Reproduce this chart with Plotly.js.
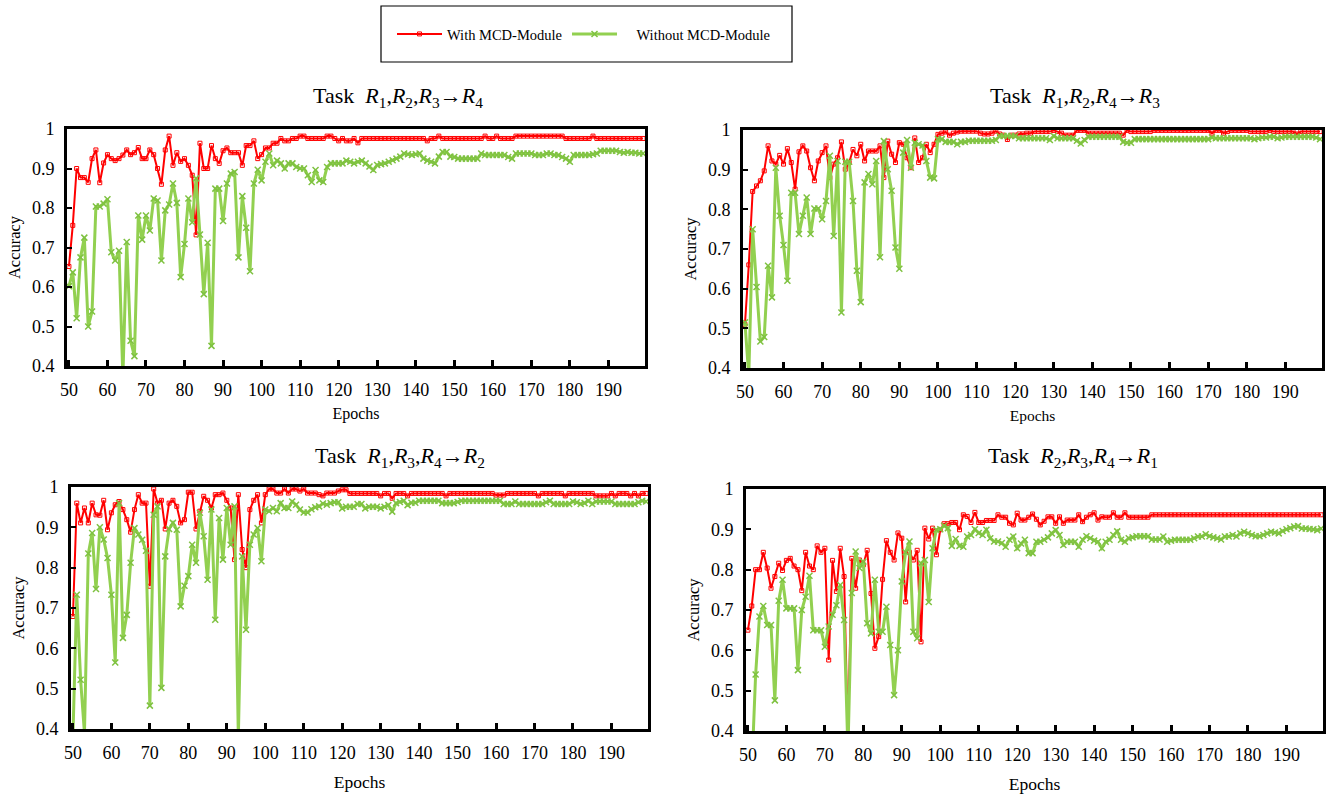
<!DOCTYPE html>
<html>
<head>
<meta charset="utf-8">
<script src="https://cdn.plot.ly/plotly-3.0.1.min.js"></script>
<style>html,body{margin:0;padding:0;background:#fff;}#chart{width:1338px;height:794px;}</style>
</head>
<body>
<div id="chart"></div>
<script>
// Epochs (categories)
const epochs = [50,51,52,53,54,55,56,57,58,59,60,61,62,63,64,65,66,67,68,69,70,71,72,73,74,75,76,77,78,79,
80,81,82,83,84,85,86,87,88,89,90,91,92,93,94,95,96,97,98,99,100,101,102,103,104,105,106,107,108,109,
110,111,112,113,114,115,116,117,118,119,120,121,122,123,124,125,126,127,128,129,130,131,132,133,134,135,136,137,138,139,
140,141,142,143,144,145,146,147,148,149,150,151,152,153,154,155,156,157,158,159,160,161,162,163,164,165,166,167,168,169,
170,171,172,173,174,175,176,177,178,179,180,181,182,183,184,185,186,187,188,189,190,191,192,193,194,195,196,197,198,199];

const xTickVals = [50,60,70,80,90,100,110,120,130,140,150,160,170,180,190];
const yTickVals = [0.4,0.5,0.6,0.7,0.8,0.9,1];
const yTickText = ["0.4","0.5","0.6","0.7","0.8","0.9","1"];

const seriesNames = ["With MCD-Module", "\u00a0\u00a0\u00a0\u00a0Without MCD-Module"];
const taskTitles = [
  "Task\u00a0 <i>R</i><sub>1</sub>,<i>R</i><sub>2</sub>,<i>R</i><sub>3</sub>\u2192<i>R</i><sub>4</sub>",
  "Task\u00a0 <i>R</i><sub>1</sub>,<i>R</i><sub>2</sub>,<i>R</i><sub>4</sub>\u2192<i>R</i><sub>3</sub>",
  "Task\u00a0 <i>R</i><sub>1</sub>,<i>R</i><sub>3</sub>,<i>R</i><sub>4</sub>\u2192<i>R</i><sub>2</sub>",
  "Task\u00a0 <i>R</i><sub>2</sub>,<i>R</i><sub>3</sub>,<i>R</i><sub>4</sub>\u2192<i>R</i><sub>1</sub>"
];

// Task R1,R2,R3 -> R4
const withR4 = [0.652,0.756,0.900,0.877,0.877,0.865,0.925,0.947,0.864,0.914,
0.935,0.925,0.920,0.925,0.934,0.947,0.935,0.940,0.953,0.925,
0.925,0.947,0.935,0.900,0.860,0.947,0.982,0.908,0.940,0.918,
0.925,0.908,0.883,0.732,0.964,0.900,0.900,0.958,0.925,0.913,
0.945,0.952,0.940,0.940,0.940,0.908,0.958,0.958,0.970,0.925,
0.935,0.952,0.952,0.964,0.964,0.976,0.970,0.970,0.976,0.976,
0.982,0.982,0.976,0.976,0.976,0.976,0.976,0.982,0.982,0.976,
0.970,0.976,0.970,0.970,0.976,0.965,0.976,0.976,0.976,0.976,
0.976,0.976,0.976,0.976,0.976,0.976,0.976,0.976,0.976,0.976,
0.976,0.976,0.976,0.970,0.976,0.976,0.982,0.976,0.976,0.976,
0.976,0.976,0.976,0.976,0.976,0.976,0.976,0.976,0.982,0.976,
0.976,0.982,0.976,0.976,0.976,0.976,0.982,0.982,0.982,0.982,
0.982,0.982,0.982,0.982,0.982,0.982,0.982,0.982,0.982,0.976,
0.976,0.976,0.976,0.976,0.976,0.976,0.982,0.976,0.976,0.976,
0.976,0.976,0.976,0.976,0.976,0.976,0.976,0.976,0.976,0.976];
const withoutR4 = [0.602,0.637,0.521,0.675,0.725,0.500,0.538,0.804,0.804,0.811,
0.822,0.688,0.667,0.692,0.370,0.714,0.464,0.425,0.781,0.720,
0.781,0.743,0.824,0.819,0.667,0.794,0.809,0.862,0.813,0.625,
0.709,0.824,0.764,0.875,0.733,0.582,0.712,0.451,0.849,0.849,
0.767,0.862,0.887,0.891,0.675,0.830,0.750,0.640,0.862,0.897,
0.870,0.917,0.938,0.908,0.920,0.913,0.900,0.913,0.913,0.904,
0.900,0.900,0.883,0.866,0.896,0.870,0.866,0.904,0.913,0.913,
0.913,0.913,0.920,0.917,0.913,0.917,0.920,0.913,0.905,0.896,
0.909,0.911,0.913,0.917,0.921,0.925,0.930,0.938,0.936,0.934,
0.936,0.938,0.925,0.920,0.917,0.913,0.930,0.942,0.942,0.930,
0.929,0.925,0.925,0.925,0.925,0.925,0.925,0.938,0.934,0.934,
0.934,0.934,0.934,0.934,0.929,0.925,0.938,0.938,0.938,0.938,
0.938,0.934,0.934,0.934,0.938,0.938,0.934,0.934,0.929,0.925,
0.917,0.934,0.934,0.934,0.934,0.934,0.936,0.938,0.945,0.945,
0.945,0.945,0.945,0.942,0.940,0.942,0.940,0.940,0.938,0.938];

// Task R1,R2,R4 -> R3
const withR3 = [0.510,0.660,0.845,0.859,0.872,0.897,0.960,0.922,0.914,0.936,
0.914,0.953,0.918,0.851,0.945,0.960,0.947,0.905,0.872,0.922,
0.943,0.960,0.880,0.914,0.930,0.970,0.901,0.918,0.951,0.935,
0.964,0.922,0.947,0.947,0.947,0.960,0.880,0.972,0.939,0.918,
0.968,0.964,0.930,0.905,0.980,0.918,0.930,0.964,0.943,0.964,
0.989,0.992,0.995,0.987,0.992,0.995,0.997,0.997,0.997,0.997,
0.997,0.992,0.990,0.990,0.992,0.997,0.990,0.987,0.976,0.987,
0.987,0.990,0.990,0.992,0.992,0.996,0.996,0.996,0.996,0.996,
0.999,0.996,0.992,0.987,0.987,0.987,0.999,0.999,0.999,0.992,
0.992,0.992,0.992,0.992,0.992,0.992,0.992,0.992,0.987,0.999,
0.996,0.996,0.996,0.996,0.996,0.996,0.999,0.999,0.999,0.999,
0.999,0.999,0.999,0.999,0.999,0.999,0.999,0.999,0.999,0.999,
0.999,0.992,0.999,0.999,0.992,0.996,0.999,0.999,0.999,0.999,
0.999,0.996,0.996,0.996,0.996,0.996,0.999,0.996,0.996,0.996,
0.996,0.996,0.996,0.990,0.996,0.996,0.996,0.996,0.996,0.996];
const withoutR3 = [0.515,0.380,0.750,0.604,0.467,0.478,0.658,0.578,0.905,0.784,
0.710,0.620,0.842,0.842,0.738,0.784,0.830,0.738,0.802,0.802,
0.775,0.821,0.935,0.733,0.922,0.540,0.920,0.920,0.821,0.645,
0.566,0.868,0.889,0.863,0.922,0.679,0.972,0.901,0.847,0.704,
0.650,0.943,0.975,0.905,0.968,0.964,0.961,0.922,0.880,0.878,
0.977,0.977,0.970,0.970,0.970,0.964,0.970,0.970,0.973,0.973,
0.973,0.973,0.973,0.973,0.973,0.975,0.985,0.985,0.985,0.985,
0.985,0.979,0.979,0.979,0.979,0.979,0.979,0.979,0.979,0.975,
0.985,0.979,0.979,0.979,0.979,0.979,0.973,0.966,0.975,0.983,
0.983,0.983,0.983,0.983,0.983,0.983,0.983,0.983,0.970,0.968,
0.968,0.977,0.977,0.977,0.977,0.977,0.977,0.977,0.977,0.977,
0.977,0.977,0.977,0.977,0.977,0.977,0.977,0.977,0.977,0.977,
0.977,0.981,0.979,0.979,0.979,0.979,0.979,0.979,0.979,0.979,
0.979,0.979,0.977,0.979,0.981,0.981,0.983,0.983,0.979,0.981,
0.983,0.983,0.983,0.983,0.983,0.983,0.983,0.983,0.981,0.977];

// Task R1,R3,R4 -> R2
const withR2 = [0.679,0.960,0.911,0.948,0.911,0.960,0.931,0.930,0.967,0.894,
0.936,0.956,0.964,0.944,0.919,0.888,0.944,0.981,0.960,0.960,
0.754,0.995,0.960,0.967,0.896,0.960,0.967,0.952,0.911,0.919,
0.987,0.987,0.896,0.940,0.977,0.967,0.948,0.981,0.981,0.985,
0.967,0.948,0.820,0.981,0.845,0.800,0.944,0.967,0.981,0.911,
0.981,0.995,0.995,0.985,0.985,0.995,0.985,0.995,0.995,0.990,
0.995,0.985,0.985,0.985,0.981,0.978,0.985,0.985,0.985,0.990,
0.993,0.993,0.984,0.984,0.984,0.984,0.984,0.984,0.984,0.984,
0.978,0.984,0.984,0.972,0.984,0.984,0.984,0.978,0.984,0.984,
0.984,0.984,0.984,0.984,0.984,0.984,0.984,0.978,0.984,0.984,
0.984,0.984,0.984,0.984,0.984,0.984,0.984,0.984,0.984,0.984,
0.980,0.980,0.980,0.984,0.984,0.984,0.984,0.984,0.984,0.984,
0.984,0.978,0.984,0.984,0.984,0.984,0.984,0.984,0.978,0.984,
0.984,0.984,0.984,0.984,0.984,0.984,0.978,0.978,0.978,0.978,
0.984,0.978,0.984,0.984,0.984,0.978,0.984,0.978,0.984,0.984];
const withoutR2 = [0.380,0.733,0.522,0.390,0.835,0.886,0.747,0.900,0.870,0.824,
0.733,0.565,0.960,0.626,0.683,0.812,0.898,0.882,0.869,0.842,
0.458,0.931,0.952,0.502,0.828,0.896,0.911,0.894,0.704,0.755,
0.779,0.857,0.812,0.936,0.878,0.770,0.944,0.671,0.923,0.820,
0.948,0.857,0.952,0.380,0.828,0.646,0.857,0.882,0.898,0.816,
0.944,0.940,0.948,0.940,0.960,0.948,0.948,0.964,0.956,0.944,
0.937,0.937,0.945,0.950,0.952,0.959,0.956,0.960,0.962,0.962,
0.947,0.951,0.951,0.951,0.958,0.958,0.947,0.951,0.951,0.951,
0.947,0.951,0.955,0.939,0.960,0.963,0.966,0.955,0.961,0.961,
0.966,0.966,0.966,0.966,0.966,0.966,0.960,0.960,0.960,0.960,
0.963,0.966,0.966,0.966,0.966,0.966,0.966,0.966,0.966,0.966,
0.966,0.966,0.958,0.958,0.958,0.964,0.958,0.958,0.958,0.958,
0.958,0.958,0.958,0.962,0.966,0.958,0.958,0.958,0.958,0.958,
0.964,0.962,0.958,0.960,0.966,0.958,0.964,0.964,0.964,0.964,
0.964,0.958,0.958,0.958,0.958,0.958,0.958,0.962,0.966,0.964];

// Task R2,R3,R4 -> R1
const withR1 = [0.650,0.710,0.800,0.800,0.843,0.804,0.754,0.783,0.816,0.798,
0.823,0.828,0.809,0.800,0.748,0.843,0.809,0.800,0.859,0.843,
0.853,0.576,0.823,0.746,0.853,0.783,0.380,0.828,0.754,0.824,
0.812,0.848,0.741,0.605,0.634,0.776,0.872,0.843,0.824,0.891,
0.878,0.720,0.843,0.824,0.848,0.621,0.903,0.876,0.903,0.837,
0.899,0.914,0.914,0.917,0.917,0.899,0.936,0.932,0.917,0.942,
0.917,0.917,0.922,0.922,0.922,0.936,0.930,0.930,0.915,0.911,
0.940,0.923,0.923,0.930,0.938,0.925,0.911,0.920,0.931,0.931,
0.915,0.931,0.915,0.923,0.923,0.923,0.936,0.919,0.930,0.936,
0.941,0.923,0.931,0.930,0.930,0.941,0.930,0.930,0.941,0.930,
0.930,0.930,0.930,0.930,0.930,0.936,0.936,0.936,0.936,0.936,
0.936,0.936,0.936,0.936,0.936,0.936,0.936,0.936,0.936,0.936,
0.936,0.936,0.936,0.936,0.936,0.936,0.936,0.936,0.936,0.936,
0.936,0.936,0.936,0.936,0.936,0.936,0.936,0.936,0.936,0.936,
0.936,0.936,0.936,0.936,0.936,0.936,0.936,0.936,0.936,0.936];
const withoutR1 = [0.300,0.300,0.540,0.684,0.710,0.663,0.663,0.476,0.723,0.775,
0.704,0.704,0.704,0.551,0.700,0.733,0.785,0.650,0.650,0.650,
0.609,0.659,0.688,0.712,0.762,0.675,0.350,0.742,0.845,0.804,
0.820,0.667,0.642,0.775,0.646,0.646,0.708,0.613,0.489,0.600,
0.771,0.843,0.870,0.646,0.630,0.816,0.824,0.720,0.853,0.899,
0.900,0.909,0.903,0.859,0.876,0.859,0.857,0.882,0.886,0.900,
0.891,0.886,0.899,0.878,0.870,0.870,0.866,0.857,0.874,0.882,
0.853,0.865,0.874,0.841,0.841,0.869,0.869,0.874,0.880,0.890,
0.898,0.886,0.861,0.869,0.869,0.869,0.857,0.874,0.883,0.878,
0.872,0.869,0.853,0.869,0.874,0.886,0.895,0.874,0.869,0.878,
0.880,0.883,0.883,0.883,0.883,0.875,0.875,0.875,0.882,0.869,
0.872,0.874,0.874,0.874,0.874,0.874,0.878,0.882,0.882,0.888,
0.883,0.880,0.878,0.875,0.882,0.882,0.886,0.882,0.890,0.894,
0.890,0.886,0.883,0.883,0.886,0.890,0.894,0.892,0.890,0.896,
0.900,0.903,0.907,0.908,0.902,0.902,0.901,0.900,0.898,0.902];

const panelsWith = [withR4, withR3, withR2, withR1];
const panelsWithout = [withoutR4, withoutR3, withoutR2, withoutR1];

const FONT = 'Liberation Serif, Times New Roman, serif';
const RED = '#ff0000';
const GREEN = '#92d050';
const GREEN_MK = '#7fc241';

const W = 1338, H = 794;
// pixel boxes [left, right, top, bottom]
const boxes = [[67,645,129,366],[743,1322,130,368],[71,648,487,729],[746,1323,489,731]];
const titlePos = [[398,97],[1075,97],[400,457],[1073,457]];
const epochsFont = [16,15.5,17.5,17.5];

const traces = [];
const layout = {
  width: W, height: H,
  margin: {l:0, r:0, t:0, b:0},
  paper_bgcolor: '#ffffff', plot_bgcolor: '#ffffff',
  font: {family: FONT, color: '#000', size: 18},
  showlegend: true,
  legend: {
    orientation: 'h', x: 392/W, y: 1 - 34/H, xanchor: 'left', yanchor: 'middle',
    borderwidth: 0, bgcolor: 'rgba(0,0,0,0)',
    font: {family: FONT, size: 14.5, color: '#000'},
    itemwidth: 45
  },
  shapes: [{type: 'rect', xref: 'paper', yref: 'paper', x0: 381/W, x1: 792/W, y0: 1 - 62/H, y1: 1 - 6/H,
            line: {color: '#000', width: 1.2}, fillcolor: 'rgba(0,0,0,0)', layer: 'below'}],
  annotations: []
};

for (let p = 0; p < 4; p++) {
  const sfx = p === 0 ? '' : String(p + 1);
  const b = boxes[p];
  const xa = 'xaxis' + sfx, ya = 'yaxis' + sfx;
  layout[xa] = {
    domain: [b[0]/W, b[1]/W], anchor: 'y' + sfx,
    range: [49.5, 199.5], tickmode: 'array', tickvals: xTickVals,
    ticks: 'inside', ticklen: 6, tickwidth: 3, tickcolor: '#000',
    showline: true, linecolor: '#000', linewidth: 3, mirror: true,
    showgrid: false, zeroline: false, ticklabelstandoff: 5,
    tickfont: {family: FONT, size: 18, color: '#000'},
    title: {text: 'Epochs', font: {family: FONT, size: epochsFont[p], color: '#000'}, standoff: p < 2 ? 10 : 15}
  };
  layout[ya] = {
    domain: [1 - b[3]/H, 1 - b[2]/H], anchor: 'x' + sfx,
    range: [0.4, 1], tickmode: 'array', tickvals: yTickVals, ticktext: yTickText,
    ticks: 'inside', ticklen: 5, tickwidth: 2, tickcolor: '#000',
    showline: true, linecolor: '#000', linewidth: 3, mirror: true,
    showgrid: false, zeroline: false, ticklabelstandoff: 6,
    tickfont: {family: FONT, size: 18, color: '#000'},
    title: {text: 'Accuracy', font: {family: FONT, size: 16.5, color: '#000'}, standoff: 8}
  };
  traces.push({
    type: 'scatter', mode: 'lines+markers', x: epochs, y: panelsWith[p],
    xaxis: 'x' + sfx, yaxis: 'y' + sfx,
    name: seriesNames[0], legendgroup: 'a', showlegend: p === 0,
    line: {color: RED, width: 2},
    marker: {symbol: 'square-open', size: 4, color: RED, line: {color: RED, width: 1}}
  });
  traces.push({
    type: 'scatter', mode: 'lines+markers', x: epochs, y: panelsWithout[p],
    xaxis: 'x' + sfx, yaxis: 'y' + sfx,
    name: seriesNames[1], legendgroup: 'b', showlegend: p === 0,
    line: {color: GREEN, width: 3},
    marker: {symbol: 'x-thin', size: 6, color: GREEN_MK, line: {color: GREEN_MK, width: 1.5}}
  });
  layout.annotations.push({
    xref: 'paper', yref: 'paper', x: titlePos[p][0]/W, y: 1 - titlePos[p][1]/H,
    xanchor: 'center', yanchor: 'middle', showarrow: false,
    text: taskTitles[p], font: {family: FONT, size: 22, color: '#000'}
  });
}

Plotly.newPlot('chart', traces, layout, {displayModeBar: false, staticPlot: true});
</script>
</body>
</html>
